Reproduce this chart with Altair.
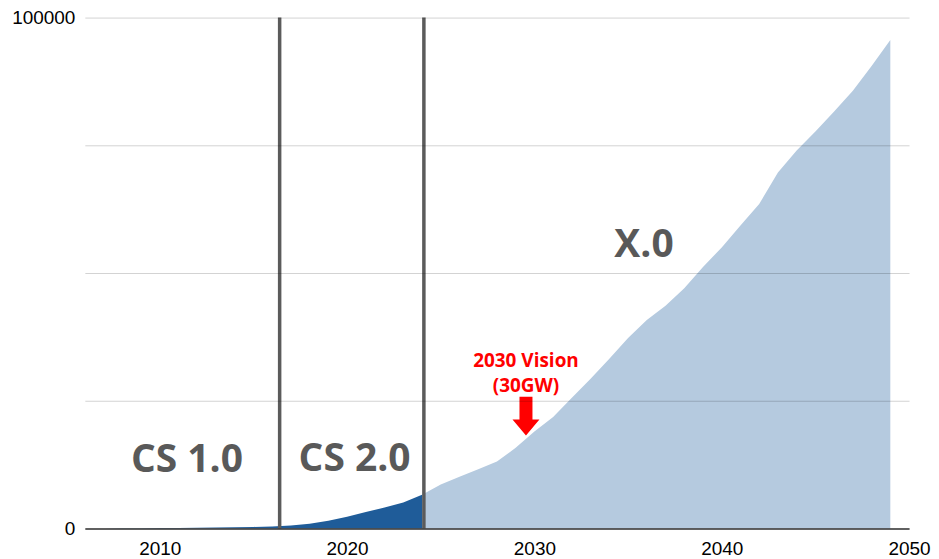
import altair as alt
import pandas as pd

# ---- data ----
years = list(range(2006, 2050))
capacity = [0, 0, 50, 50, 100, 100, 150, 200, 250, 300, 400, 600, 900, 1500, 2300,
            3200, 4100, 5100, 6600,
            8600, 10100, 11600, 13100, 15800, 19000, 21800, 25600, 29300, 33200,
            37300, 40800, 43600, 47000, 51200, 55000, 59300, 63500, 69700, 74000,
            77700, 81600, 85700, 90500, 95600]
phase_split = 2024
boundaries = [2016.4, 2024.1]

era_labels = ["CS 1.0", "CS 2.0", "X.0"]
era_x = [2011.45, 2020.4, 2035.85]
era_y = [13400, 13600, 55500]

vision_labels = ["2030 Vision", "(30GW)"]
vision_x = [2029.55, 2029.55]
vision_y = [32800, 27900]
arrow_x = [2029.55]
arrow_y = [21900]

y_ticks = [0, 25000, 50000, 75000, 100000]
x_ticks = [2010, 2020, 2030, 2040, 2050]

rows = []
for yr, v in zip(years, capacity):
    if yr <= phase_split:
        rows.append({"year": yr, "value": v, "phase": "past"})
    if yr >= phase_split:
        rows.append({"year": yr, "value": v, "phase": "future"})
df = pd.DataFrame(rows)

xscale = alt.Scale(domain=[2006, 2050], nice=False, zero=False)
yscale = alt.Scale(domain=[0, 100000], nice=False)

x_axis = alt.Axis(values=x_ticks, format="d", ticks=False, grid=False,
                  labelFontSize=19, labelPadding=11, labelFlush=False,
                  labelFont="Liberation Sans", labelColor="#000",
                  domainColor="#333333", domainWidth=1.5, title=None, zindex=1)
y_axis = alt.Axis(values=y_ticks, format="d",
                  labelExpr="(datum.value == 0 || datum.value == 100000) ? datum.label : ''",
                  ticks=False, domain=False, gridColor="#000000", gridOpacity=0.18,
                  labelFontSize=19, labelPadding=10, labelFont="Liberation Sans",
                  labelColor="#000", title=None, zindex=1)

area = alt.Chart(df).mark_area(interpolate="linear").encode(
    x=alt.X("year:Q", scale=xscale, axis=x_axis),
    y=alt.Y("value:Q", scale=yscale, axis=y_axis, stack=None),
    color=alt.Color("phase:N",
                    scale=alt.Scale(domain=["past", "future"], range=["#1f5c99", "#b5cadf"]),
                    legend=None),
    detail="phase:N",
)

rules = alt.Chart(pd.DataFrame({"x": boundaries})).mark_rule(
    color="#5b5b5b", strokeWidth=3.5
).encode(x=alt.X("x:Q", scale=xscale))

eras = alt.Chart(pd.DataFrame({"t": era_labels, "x": era_x, "y": era_y})).mark_text(
    font="Open Sans", fontWeight="bold", fontSize=39, color="#595959",
    align="center", baseline="middle"
).encode(x=alt.X("x:Q", scale=xscale), y=alt.Y("y:Q", scale=yscale), text="t:N")

vision = alt.Chart(pd.DataFrame({"t": vision_labels, "x": vision_x, "y": vision_y})).mark_text(
    font="Open Sans", fontWeight="bold", fontSize=19, color="#ff0000",
    align="center", baseline="middle"
).encode(x=alt.X("x:Q", scale=xscale), y=alt.Y("y:Q", scale=yscale), text="t:N")

arrow = alt.Chart(pd.DataFrame({"x": arrow_x, "y": arrow_y})).mark_point(
    shape="M-0.325,-1L0.325,-1L0.325,0.15L0.675,0.15L0,0.95L-0.675,0.15L-0.325,0.15Z",
    size=1600, filled=True, color="#ff0000", opacity=1, strokeWidth=0
).encode(x=alt.X("x:Q", scale=xscale), y=alt.Y("y:Q", scale=yscale))

chart = alt.layer(area, rules, eras, vision, arrow).properties(
    width=826, height=512,
    autosize=alt.AutoSizeParams(type="none"),
    padding={"left": 77, "top": 9, "right": 22, "bottom": 31},
).configure_view(stroke=None)

chart.save("out.html", embed_options={"renderer": "svg", "actions": False})
